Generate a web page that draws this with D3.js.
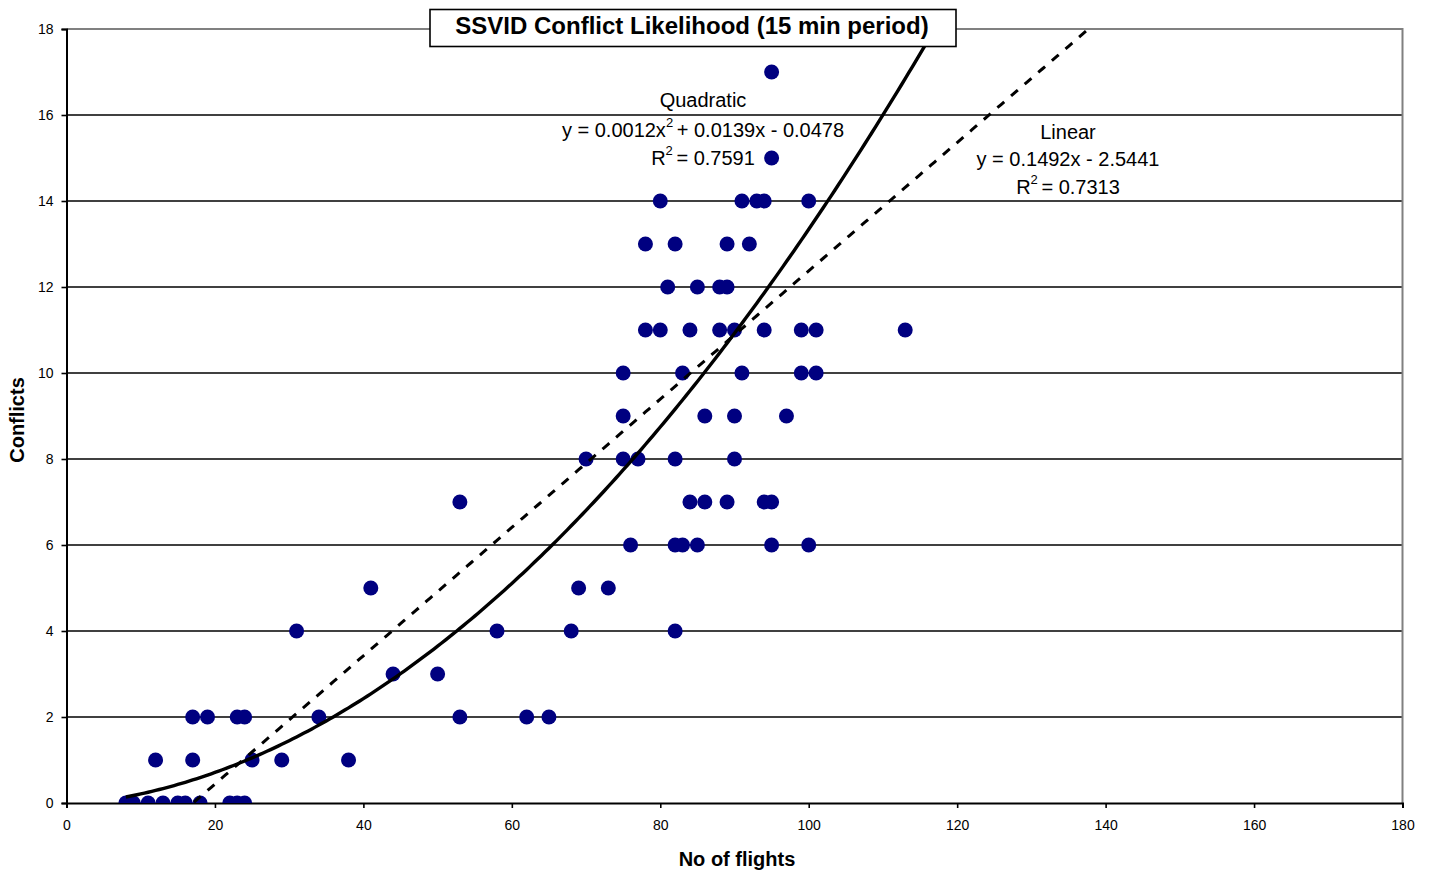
<!DOCTYPE html>
<html>
<head>
<meta charset="utf-8">
<script src="https://cdn.jsdelivr.net/npm/d3@7"></script>
<style>
  html, body { margin: 0; padding: 0; background: #fff; }
  svg { display: block; font-family: "Liberation Sans", Arial, sans-serif; }
</style>
</head>
<body>
<svg id="chart" width="1434" height="873"></svg>
<script>
// ---- Data ----
const flights   = [8, 9, 11, 13, 15, 16, 18, 22, 23, 24,
                   12, 17, 25, 29, 38,
                   17, 19, 23, 24, 34, 53, 62, 65,
                   44, 50,
                   31, 58, 68, 82,
                   41, 69, 73,
                   76, 82, 83, 85, 95, 100,
                   53, 84, 86, 89, 94, 95,
                   70, 75, 77, 82, 90,
                   75, 86, 90, 97,
                   75, 83, 91, 99, 101,
                   78, 80, 84, 88, 90, 94, 99, 101, 113,
                   81, 85, 88, 89,
                   78, 82, 89, 92,
                   80, 91, 93, 94, 100,
                   95,
                   95];
const conflicts = [0, 0, 0, 0, 0, 0, 0, 0, 0, 0,
                   1, 1, 1, 1, 1,
                   2, 2, 2, 2, 2, 2, 2, 2,
                   3, 3,
                   4, 4, 4, 4,
                   5, 5, 5,
                   6, 6, 6, 6, 6, 6,
                   7, 7, 7, 7, 7, 7,
                   8, 8, 8, 8, 8,
                   9, 9, 9, 9,
                   10, 10, 10, 10, 10,
                   11, 11, 11, 11, 11, 11, 11, 11, 11,
                   12, 12, 12, 12,
                   13, 13, 13, 13,
                   14, 14, 14, 14, 14,
                   15,
                   17];
const quadCoef   = [0.0012, 0.0139, -0.0478];   // a x^2 + b x + c
const linearCoef = [0.1492, -2.5441];           // m x + k
const trendX     = [8, 150];                    // trend line span (forecast clipped by plot)
const xTicks     = [0, 20, 40, 60, 80, 100, 120, 140, 160, 180];
const yTicks     = [0, 2, 4, 6, 8, 10, 12, 14, 16, 18];
const titleText  = "SSVID Conflict Likelihood (15 min period)";
const xLabel     = "No of flights";
const yLabel     = "Conflicts";

// ---- Layout ----
const svg = d3.select("#chart");
const L = 66.5, R = 1402.5, T = 29, B = 803;
const x = d3.scaleLinear().domain([0, 180]).range([L, R]);
const y = d3.scaleLinear().domain([0, 18]).range([B, T]);

svg.append("defs").append("clipPath").attr("id", "plotclip")
  .append("rect").attr("x", L).attr("y", T).attr("width", R - L).attr("height", B - T);

// gridlines
svg.append("g").selectAll("line").data(yTicks.filter(d => d > 0 && d < 18)).join("line")
  .attr("x1", L).attr("x2", R)
  .attr("y1", d => y(d)).attr("y2", d => y(d))
  .attr("stroke", "#000").attr("stroke-width", 1.6);

// plot border top & right (grey)
svg.append("path")
  .attr("d", `M${L},${y(18)}H${R}V${B}`)
  .attr("fill", "none").attr("stroke", "#808080").attr("stroke-width", 2);

// axes
const xAxis = svg.append("g").attr("transform", `translate(0,${B})`)
  .call(d3.axisBottom(x).tickValues(xTicks).tickSize(5).tickPadding(12).tickFormat(d3.format("d")));
const yAxis = svg.append("g").attr("transform", `translate(${L},0)`)
  .call(d3.axisLeft(y).tickValues(yTicks).tickSize(5).tickPadding(8).tickFormat(d3.format("d")));
[xAxis, yAxis].forEach(g => {
  g.select(".domain").attr("stroke", "#000").attr("stroke-width", 2);
  g.selectAll(".tick line").attr("stroke", "#000").attr("stroke-width", 1.6);
  g.selectAll(".tick text").attr("fill", "#000")
    .style("font-family", '"Liberation Sans", Arial, sans-serif').style("font-size", "14px");
});

// trend lines
const plot = svg.append("g").attr("clip-path", "url(#plotclip)");
const xs = d3.range(trendX[0], trendX[1] + 0.01, 0.5);
const quad = v => quadCoef[0] * v * v + quadCoef[1] * v + quadCoef[2];
const lin = v => linearCoef[0] * v + linearCoef[1];
const line = f => d3.line().x(d => x(d)).y(d => y(f(d)));

// points
plot.append("g").selectAll("circle").data(flights.map((f, i) => [f, conflicts[i]])).join("circle")
  .attr("cx", d => x(d[0])).attr("cy", d => y(d[1])).attr("r", 7.5)
  .attr("fill", "#000080");

plot.append("path").datum(xs).attr("d", line(lin))
  .attr("fill", "none").attr("stroke", "#000").attr("stroke-width", 3)
  .attr("stroke-dasharray", "9,9");
plot.append("path").datum(xs).attr("d", line(quad))
  .attr("fill", "none").attr("stroke", "#000").attr("stroke-width", 3.4);

// equation labels
function eqBlock(cx, lines) {
  const g = svg.append("g").attr("font-size", 20).attr("fill", "#000").attr("text-anchor", "middle");
  lines.forEach(l => {
    const t = g.append("text").attr("x", cx).attr("y", l.y);
    l.parts.forEach(p => {
      if (p.sup) t.append("tspan").attr("dy", -10).attr("font-size", 13).text(p.t + "\u00A0");
      else t.append("tspan").attr("dy", p.after ? 10 : 0).text(p.t);
    });
  });
}
eqBlock(703, [
  { y: 107, parts: [{ t: "Quadratic" }] },
  { y: 137, parts: [{ t: "y = 0.0012x" }, { t: "2", sup: true }, { t: "+ 0.0139x - 0.0478", after: true }] },
  { y: 165, parts: [{ t: "R" }, { t: "2", sup: true }, { t: "= 0.7591", after: true }] }
]);
eqBlock(1068, [
  { y: 139, parts: [{ t: "Linear" }] },
  { y: 166, parts: [{ t: "y = 0.1492x - 2.5441" }] },
  { y: 194, parts: [{ t: "R" }, { t: "2", sup: true }, { t: "= 0.7313", after: true }] }
]);

// title box
svg.append("rect").attr("x", 430).attr("y", 9.5).attr("width", 526).attr("height", 37)
  .attr("fill", "#fff").attr("stroke", "#000").attr("stroke-width", 1.6);
svg.append("text").attr("x", 692).attr("y", 34).attr("text-anchor", "middle")
  .attr("font-size", 24).attr("font-weight", "bold").text(titleText);

// axis titles
svg.append("text").attr("x", 737).attr("y", 866).attr("text-anchor", "middle")
  .attr("font-size", 20).attr("font-weight", "bold").text(xLabel);
svg.append("text").attr("transform", "translate(24,420) rotate(-90)").attr("text-anchor", "middle")
  .attr("font-size", 20).attr("font-weight", "bold").text(yLabel);
</script>
</body>
</html>
